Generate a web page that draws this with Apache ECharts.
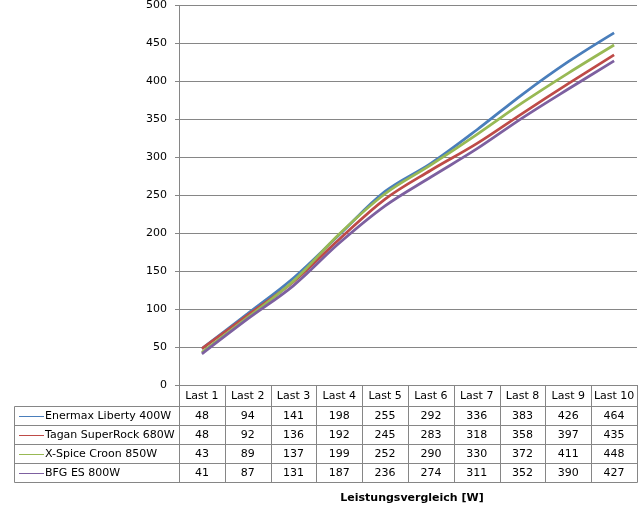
<!DOCTYPE html>
<html>
<head>
<meta charset="utf-8">
<script src="https://cdn.jsdelivr.net/npm/echarts@6/dist/echarts.min.js"></script>
<style>html,body{margin:0;padding:0;background:#fff}#c{width:638px;height:508px}</style>
</head>
<body>
<div id="c"></div>
<script>
const categories = ['Last 1','Last 2','Last 3','Last 4','Last 5','Last 6','Last 7','Last 8','Last 9','Last 10'];
const seriesNames = ['Enermax Liberty 400W','Tagan SuperRock 680W','X-Spice Croon 850W','BFG ES 800W'];
const enermax = [48, 94, 141, 198, 255, 292, 336, 383, 426, 464];
const tagan   = [48, 92, 136, 192, 245, 283, 318, 358, 397, 435];
const xspice  = [43, 89, 137, 199, 252, 290, 330, 372, 411, 448];
const bfg     = [41, 87, 131, 187, 236, 274, 311, 352, 390, 427];
const titleText = 'Leistungsvergleich [W]';
const yMin = 0, yMax = 500, yStep = 50;

const allData = [enermax, tagan, xspice, bfg];
const colors = ['#4A7EBB', '#BE4B48', '#98B954', '#7D60A0'];
const FONT = 'DejaVu Sans';
const GRAY = '#868686';

// layout
const W = 638, H = 508;
const X0 = 179, X1 = 637, Y0 = 385, LEG_X = 14.5;
const HEADER_H = 21.5, ROW_H = 19;
const colW = (X1 - X0) / categories.length;

const graphic = [];
const tableBottom = Y0 + HEADER_H + ROW_H * seriesNames.length;
for (let i = 0; i <= categories.length; i++) {
  const x = Math.round(X0 + i * colW) + 0.5;
  graphic.push({type:'line', shape:{x1:x, y1:Y0, x2:x, y2:tableBottom}, style:{stroke:GRAY, lineWidth:1}, silent:true});
}
graphic.push({type:'line', shape:{x1:LEG_X, y1:Y0 + HEADER_H, x2:LEG_X, y2:tableBottom}, style:{stroke:GRAY, lineWidth:1}, silent:true});
for (let r = 0; r <= seriesNames.length; r++) {
  const y = Y0 + HEADER_H + r * ROW_H;
  graphic.push({type:'line', shape:{x1:LEG_X, y1:y, x2:X1 + 0.5, y2:y}, style:{stroke:GRAY, lineWidth:1}, silent:true});
}
seriesNames.forEach((name, r) => {
  const cy = Y0 + HEADER_H + r * ROW_H + ROW_H / 2;
  graphic.push({type:'line', shape:{x1:19, y1:Math.round(cy)+0.5, x2:44, y2:Math.round(cy)+0.5}, style:{stroke:colors[r], lineWidth:1}, silent:true});
  graphic.push({type:'text', x:45, y:cy, style:{text:name, font:'11px "' + FONT + '"', fill:'#000', textAlign:'left', textVerticalAlign:'middle'}, silent:true});
  allData[r].forEach((v, i) => {
    graphic.push({type:'text', x:X0 + (i + 0.5) * colW, y:cy, style:{text:String(v), font:'11px "' + FONT + '"', fill:'#000', textAlign:'center', textVerticalAlign:'middle'}, silent:true});
  });
});
graphic.push({type:'text', x:412, y:498, style:{text:titleText, font:'bold 11px "' + FONT + '"', fill:'#000', textAlign:'center', textVerticalAlign:'middle'}, silent:true});

const chart = echarts.init(document.getElementById('c'), null, {renderer:'canvas'});
chart.setOption({
  backgroundColor:'#fff',
  animation:false,
  textStyle:{fontFamily:FONT},
  grid:{left:X0, right:W - X1, top:5, bottom:H - Y0, containLabel:false},
  xAxis:{
    type:'category', data:categories, boundaryGap:true,
    axisLine:{show:true, lineStyle:{color:GRAY, width:1}},
    axisTick:{show:false},
    axisLabel:{color:'#000', fontSize:11, fontFamily:FONT, margin:6, interval:0},
    splitLine:{show:false}
  },
  yAxis:{
    type:'value', min:yMin, max:yMax, interval:yStep,
    axisLine:{show:true, lineStyle:{color:GRAY, width:1}},
    axisTick:{show:true, length:4, lineStyle:{color:GRAY}},
    axisLabel:{color:'#000', fontSize:11, fontFamily:FONT, margin:12},
    splitLine:{show:true, lineStyle:{color:GRAY, width:1}}
  },
  series: seriesNames.map((name, i) => ({
    name, type:'line', data:allData[i], smooth:0.35, symbol:'none',
    lineStyle:{color:colors[i], width:2.75}, itemStyle:{color:colors[i]}
  })),
  graphic
});
</script>
</body>
</html>
